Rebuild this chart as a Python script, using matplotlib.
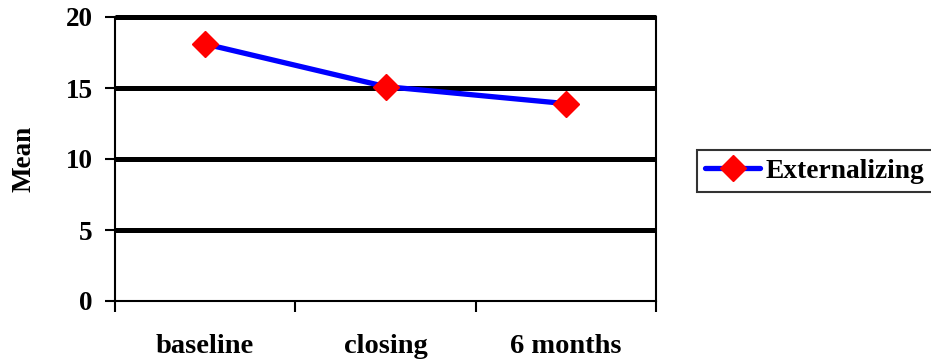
import matplotlib
matplotlib.use("Agg")
import matplotlib.pyplot as plt
from matplotlib.ticker import FixedLocator, NullFormatter

categories = ["baseline", "closing", "6 months"]
externalizing = [18.1, 15.1, 13.9]
y_ticks = [0, 5, 10, 15, 20]
series_name = "Externalizing"

plt.rcParams["font.family"] = ["Liberation Serif", "DejaVu Serif"]
plt.rcParams["font.weight"] = "bold"

W, H = 931, 360
fig = plt.figure(figsize=(W / 100, H / 100), dpi=100)
ax = fig.add_axes([115 / W, 1 - 301 / H, (656 - 115) / W, (301 - 17) / H])

x = list(range(len(categories)))
ax.plot(x, externalizing, color="#0000ff", lw=3.8, marker="D", ms=13.5,
        mfc="#ff0000", mec="#ff0000", label=series_name, zorder=5,
        solid_capstyle="round")

ax.set_xlim(-0.5, len(categories) - 0.5)
ax.set_ylim(0, 20)

# horizontal gridlines
for v in y_ticks[1:]:
    ax.axhline(v, color="black", lw=3.6, zorder=2, clip_on=False,
               solid_capstyle="butt")

ax.set_yticks(y_ticks)
ax.set_yticklabels([str(v) for v in y_ticks], fontsize=19.5, fontweight="bold")
ax.xaxis.set_major_locator(FixedLocator([i - 0.5 for i in range(len(categories) + 1)]))
ax.xaxis.set_major_formatter(NullFormatter())
ax.xaxis.set_minor_locator(FixedLocator(x))
ax.set_xticklabels(categories, minor=True, fontsize=20.5, fontweight="bold")
ax.tick_params(axis="x", which="major", length=8, width=1.5, direction="out")
ax.tick_params(axis="x", which="minor", length=0, pad=24)
ax.tick_params(axis="y", length=7, width=1.5, direction="out", pad=9)

for side in ["left", "bottom", "right"]:
    ax.spines[side].set_linewidth(1.5)
ax.spines["top"].set_visible(False)

ax.set_ylabel("Mean", fontsize=19.5, fontweight="bold", labelpad=21)

leg = fig.legend(loc="center left", bbox_to_anchor=(697 / W, 1 - 171 / H),
                 frameon=True, fancybox=False, edgecolor="black",
                 handlelength=2.0, handletextpad=0.2, borderpad=0.3,
                 borderaxespad=0, prop={"weight": "bold", "size": 19.8})
leg.get_frame().set_linewidth(1.5)

fig.savefig("out.png", dpi=100)
